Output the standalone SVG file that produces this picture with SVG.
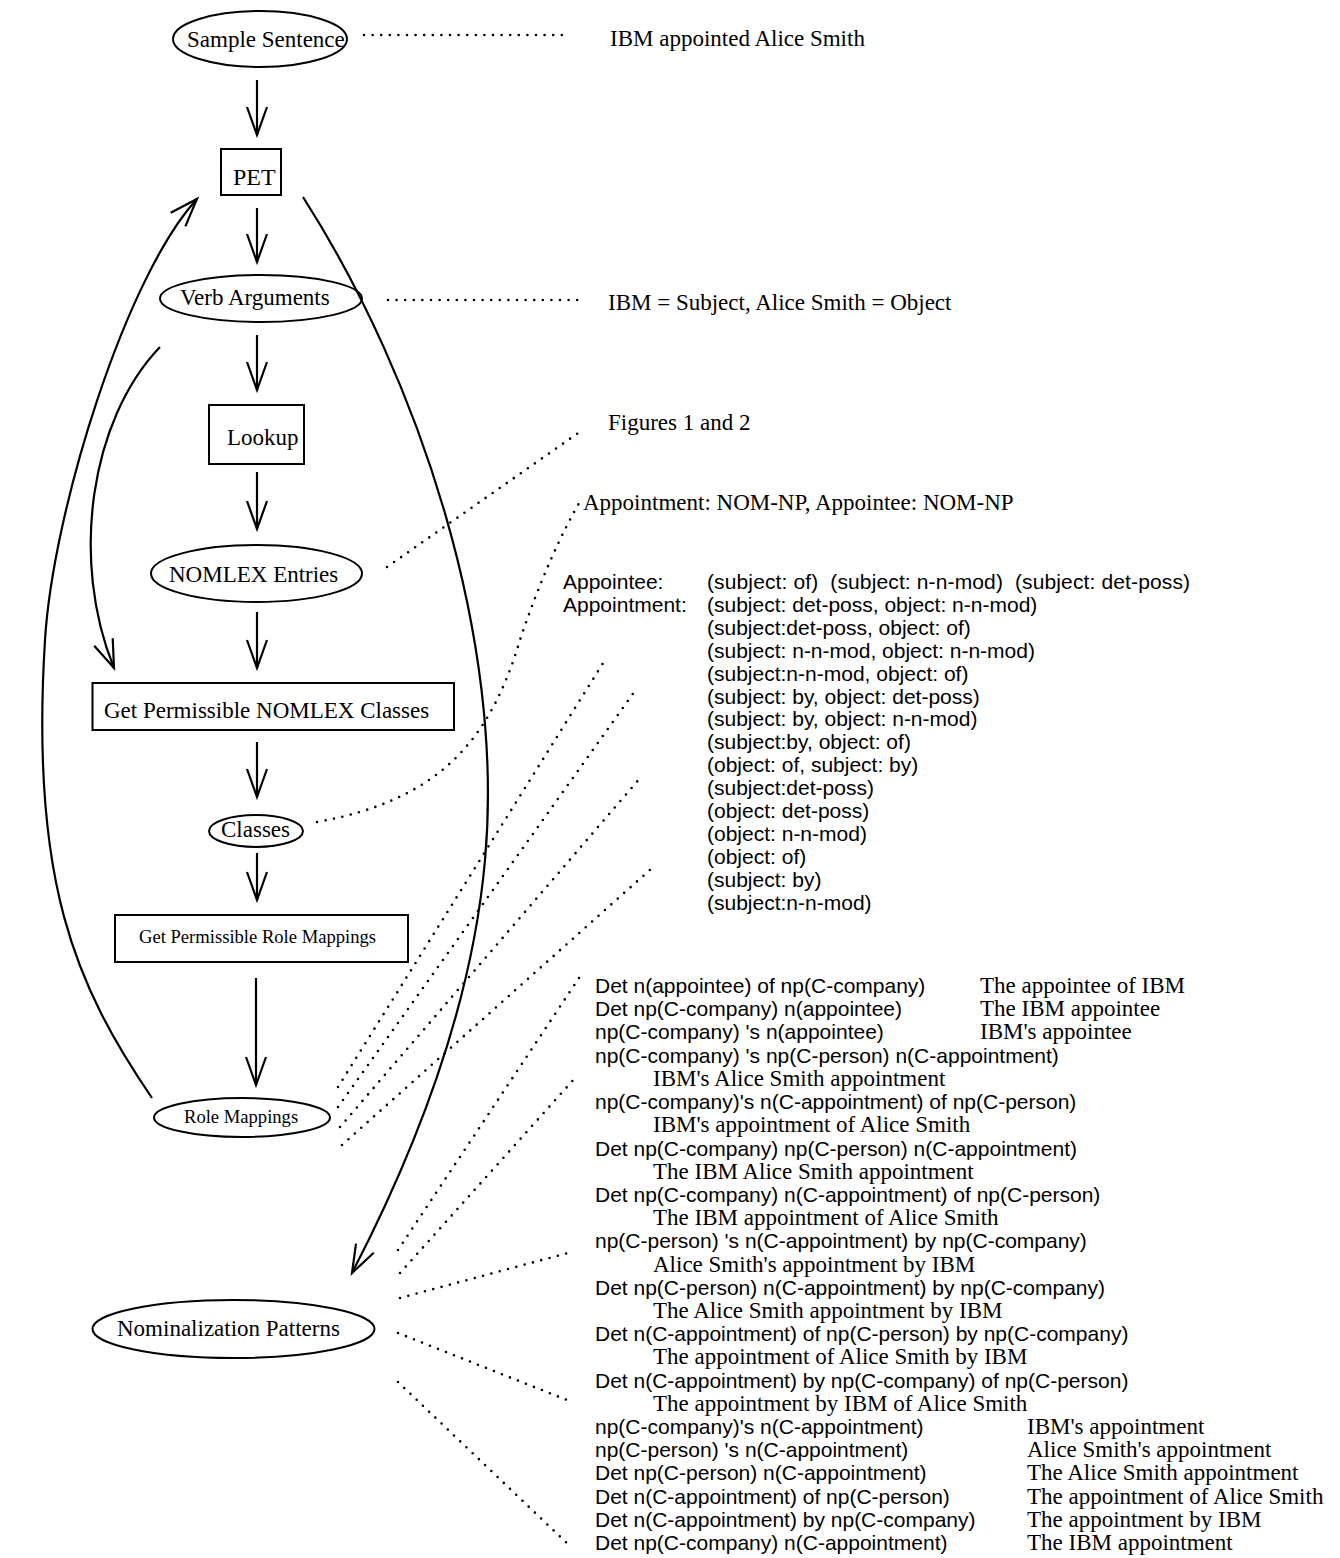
<svg xmlns="http://www.w3.org/2000/svg" width="1340" height="1558" viewBox="0 0 1340 1558">
<style>
.s{font-family:"Liberation Serif","Times New Roman",serif;font-size:23px;fill:#000}
.sm{font-family:"Liberation Serif","Times New Roman",serif;font-size:18.6px;fill:#000}
.a{font-family:"Liberation Sans",Arial,sans-serif;font-size:21px;fill:#000}
.shape{fill:none;stroke:#000;stroke-width:2}
.arr{fill:none;stroke:#000;stroke-width:2.2;marker-end:url(#ah)}
.dot{fill:none;stroke:#000;stroke-width:2.6;stroke-linecap:round;stroke-dasharray:0 8.6}
</style>
<defs>
<marker id="ah" markerUnits="userSpaceOnUse" markerWidth="40" markerHeight="40" refX="0" refY="0" orient="auto" style="overflow:visible">
<path d="M-28,-10 L0,0 L-28,10" fill="none" stroke="#000" stroke-width="2.2"/>
</marker>
</defs>
<rect x="0" y="0" width="1340" height="1558" fill="#fff"/>

<g id="connectors">
<line class="arr" x1="257" y1="80" x2="257" y2="135"/>
<line class="arr" x1="257" y1="208" x2="257" y2="262"/>
<line class="arr" x1="257" y1="335" x2="257" y2="390"/>
<line class="arr" x1="257" y1="472" x2="257" y2="529"/>
<line class="arr" x1="257" y1="612" x2="257" y2="668"/>
<line class="arr" x1="257" y1="742" x2="257" y2="797"/>
<line class="arr" x1="257" y1="853" x2="257" y2="900"/>
<line class="arr" x1="256" y1="978" x2="256" y2="1085"/>
<path class="arr" d="M152,1098 C75,985 30,880 45,640 C53,510 126,276 197,199"/>
<path class="arr" d="M160,347 C90,420 70,560 114,668"/>
<path class="arr" d="M303,197 C420,380 505,640 485,860 C470,1030 395,1190 352,1273"/>
<line class="dot" x1="364" y1="35" x2="568" y2="35"/>
<line class="dot" x1="388" y1="300" x2="581" y2="300"/>
<line class="dot" x1="387" y1="567" x2="581" y2="431"/>
<path class="dot" d="M317,822 C440,800 490,740 520,640 C540,580 562,532 582,498"/>
<line class="dot" x1="338" y1="1087" x2="605" y2="660"/>
<line class="dot" x1="338" y1="1107" x2="637" y2="688"/>
<line class="dot" x1="340" y1="1127" x2="641" y2="777"/>
<line class="dot" x1="342" y1="1145" x2="652" y2="868"/>
<line class="dot" x1="398" y1="1250" x2="583" y2="972"/>
<line class="dot" x1="400" y1="1273" x2="575" y2="1078"/>
<line class="dot" x1="400" y1="1298" x2="568" y2="1253"/>
<line class="dot" x1="398" y1="1333" x2="572" y2="1402"/>
<line class="dot" x1="398" y1="1382" x2="572" y2="1548"/>
</g>

<g id="sample-sentence">
<ellipse class="shape" cx="260" cy="39" rx="87" ry="28"/>
<text class="s" x="187" y="47">Sample Sentence</text>
</g>
<g id="pet">
<rect class="shape" x="221" y="149" width="60" height="46"/>
<text class="s" x="233" y="185" style="font-size:24px">PET</text>
</g>
<g id="verb-arguments">
<ellipse class="shape" cx="261" cy="298.5" rx="101" ry="23.5"/>
<text class="s" x="180" y="305">Verb Arguments</text>
</g>
<g id="lookup">
<rect class="shape" x="209" y="405" width="95" height="59"/>
<text class="s" x="227" y="445">Lookup</text>
</g>
<g id="nomlex-entries">
<ellipse class="shape" cx="256.5" cy="573.5" rx="105.5" ry="28.5"/>
<text class="s" x="169" y="582">NOMLEX Entries</text>
</g>
<g id="get-nomlex-classes">
<rect class="shape" x="92.5" y="683" width="361.5" height="47"/>
<text class="s" x="104" y="718">Get Permissible NOMLEX Classes</text>
</g>
<g id="classes">
<ellipse class="shape" cx="256" cy="831" rx="47" ry="16"/>
<text class="s" x="221" y="837">Classes</text>
</g>
<g id="get-role-mappings">
<rect class="shape" x="115" y="915" width="293" height="47"/>
<text class="sm" x="139" y="943">Get Permissible Role Mappings</text>
</g>
<g id="role-mappings">
<ellipse class="shape" cx="242" cy="1117.5" rx="88" ry="19.5"/>
<text class="sm" x="184" y="1123">Role Mappings</text>
</g>
<g id="nominalization-patterns">
<ellipse class="shape" cx="233.5" cy="1329" rx="141" ry="29"/>
<text class="s" x="117" y="1336">Nominalization Patterns</text>
</g>

<g id="annotations-top">
<text class="s" x="610" y="46">IBM appointed Alice Smith</text>
<text class="s" x="608" y="310">IBM = Subject, Alice Smith = Object</text>
<text class="s" x="608" y="430">Figures 1 and 2</text>
<text class="s" x="583" y="510">Appointment: NOM-NP, Appointee: NOM-NP</text>
</g>

<g id="classes-list">
<text class="a" x="563" y="589">Appointee:</text>
<text class="a" x="707" y="589" xml:space="preserve" textLength="483" lengthAdjust="spacing">(subject: of)  (subject: n-n-mod)  (subject: det-poss)</text>
<text class="a" x="563" y="611.9">Appointment:</text>
<text class="a" x="707" y="611.9">(subject: det-poss, object: n-n-mod)</text>
<text class="a" x="707" y="634.8">(subject:det-poss, object: of)</text>
<text class="a" x="707" y="657.7">(subject: n-n-mod, object: n-n-mod)</text>
<text class="a" x="707" y="680.6">(subject:n-n-mod, object: of)</text>
<text class="a" x="707" y="703.5">(subject: by, object: det-poss)</text>
<text class="a" x="707" y="726.4">(subject: by, object: n-n-mod)</text>
<text class="a" x="707" y="749.3">(subject:by, object: of)</text>
<text class="a" x="707" y="772.2">(object: of, subject: by)</text>
<text class="a" x="707" y="795.1">(subject:det-poss)</text>
<text class="a" x="707" y="818">(object: det-poss)</text>
<text class="a" x="707" y="840.9">(object: n-n-mod)</text>
<text class="a" x="707" y="863.8">(object: of)</text>
<text class="a" x="707" y="886.7">(subject: by)</text>
<text class="a" x="707" y="909.6">(subject:n-n-mod)</text>
</g>

<g id="patterns-list">
<text class="a" x="595" y="993">Det n(appointee) of np(C-company)</text>
<text class="s" x="980" y="993">The appointee of IBM</text>
<text class="a" x="595" y="1016.2">Det np(C-company) n(appointee)</text>
<text class="s" x="980" y="1016.2">The IBM appointee</text>
<text class="a" x="595" y="1039.4">np(C-company) 's n(appointee)</text>
<text class="s" x="980" y="1039.4">IBM's appointee</text>
<text class="a" x="595" y="1062.6">np(C-company) 's np(C-person) n(C-appointment)</text>
<text class="s" x="653" y="1085.8">IBM's Alice Smith appointment</text>
<text class="a" x="595" y="1109.1">np(C-company)'s n(C-appointment) of np(C-person)</text>
<text class="s" x="653" y="1132.3">IBM's appointment of Alice Smith</text>
<text class="a" x="595" y="1155.5">Det np(C-company) np(C-person) n(C-appointment)</text>
<text class="s" x="653" y="1178.7">The IBM Alice Smith appointment</text>
<text class="a" x="595" y="1201.9">Det np(C-company) n(C-appointment) of np(C-person)</text>
<text class="s" x="653" y="1225.1">The IBM appointment of Alice Smith</text>
<text class="a" x="595" y="1248.3">np(C-person) 's n(C-appointment) by np(C-company)</text>
<text class="s" x="653" y="1271.5">Alice Smith's appointment by IBM</text>
<text class="a" x="595" y="1294.7">Det np(C-person) n(C-appointment) by np(C-company)</text>
<text class="s" x="653" y="1318">The Alice Smith appointment by IBM</text>
<text class="a" x="595" y="1341.2">Det n(C-appointment) of np(C-person) by np(C-company)</text>
<text class="s" x="653" y="1364.4">The appointment of Alice Smith by IBM</text>
<text class="a" x="595" y="1387.6">Det n(C-appointment) by np(C-company) of np(C-person)</text>
<text class="s" x="653" y="1410.8">The appointment by IBM of Alice Smith</text>
<text class="a" x="595" y="1434">np(C-company)'s n(C-appointment)</text>
<text class="s" x="1027" y="1434">IBM's appointment</text>
<text class="a" x="595" y="1457.2">np(C-person) 's n(C-appointment)</text>
<text class="s" x="1027" y="1457.2">Alice Smith's appointment</text>
<text class="a" x="595" y="1480.4">Det np(C-person) n(C-appointment)</text>
<text class="s" x="1027" y="1480.4">The Alice Smith appointment</text>
<text class="a" x="595" y="1503.6">Det n(C-appointment) of np(C-person)</text>
<text class="s" x="1027" y="1503.6">The appointment of Alice Smith</text>
<text class="a" x="595" y="1526.8">Det n(C-appointment) by np(C-company)</text>
<text class="s" x="1027" y="1526.8">The appointment by IBM</text>
<text class="a" x="595" y="1550">Det np(C-company) n(C-appointment)</text>
<text class="s" x="1027" y="1550">The IBM appointment</text>
</g>
</svg>
